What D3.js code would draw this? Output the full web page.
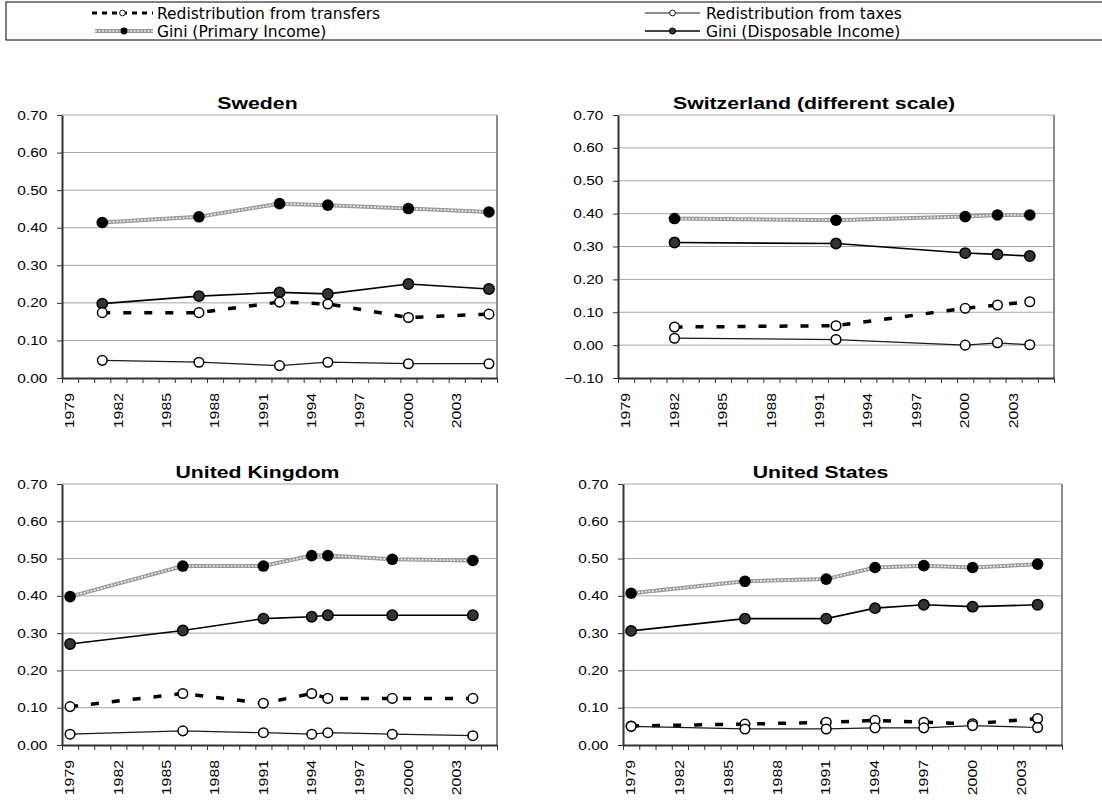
<!DOCTYPE html>
<html>
<head>
<meta charset="utf-8">
<script src="https://cdn.jsdelivr.net/npm/d3@7"></script>
<style>
  body { margin: 0; background: #fff; }
  text { fill: #000; }
</style>
</head>
<body>
<div id="viz"></div>
<script>
// categories on the x axis (one band per year)
const allYears = [1979, 1980, 1981, 1982, 1983, 1984, 1985, 1986, 1987, 1988, 1989, 1990, 1991,
  1992, 1993, 1994, 1995, 1996, 1997, 1998, 1999, 2000, 2001, 2002, 2003, 2004, 2005];
const tickYears = [1979, 1982, 1985, 1988, 1991, 1994, 1997, 2000, 2003];
const yTicks = [0, 0.1, 0.2, 0.3, 0.4, 0.5, 0.6, 0.7];
const yTicksChe = [-0.1, 0, 0.1, 0.2, 0.3, 0.4, 0.5, 0.6, 0.7];

const seriesNames = ["Redistribution from transfers", "Redistribution from taxes",
  "Gini (Primary Income)", "Gini (Disposable Income)"];

// Sweden
const sweYears = [1981, 1987, 1992, 1995, 2000, 2005];
const sweTransfers = [0.174, 0.174, 0.202, 0.197, 0.161, 0.170];
const sweTaxes = [0.047, 0.042, 0.033, 0.042, 0.038, 0.038];
const swePrimary = [0.414, 0.429, 0.464, 0.460, 0.451, 0.442];
const sweDisposable = [0.198, 0.218, 0.228, 0.224, 0.250, 0.237];

// Switzerland
const cheYears = [1982, 1992, 2000, 2002, 2004];
const cheTransfers = [0.055, 0.059, 0.112, 0.122, 0.132];
const cheTaxes = [0.021, 0.017, 0.000, 0.007, 0.001];
const chePrimary = [0.385, 0.380, 0.391, 0.396, 0.396];
const cheDisposable = [0.312, 0.309, 0.280, 0.276, 0.271];

// United Kingdom
const gbrYears = [1979, 1986, 1991, 1994, 1995, 1999, 2004];
const gbrTransfers = [0.103, 0.138, 0.112, 0.138, 0.125, 0.125, 0.125];
const gbrTaxes = [0.029, 0.038, 0.033, 0.029, 0.033, 0.029, 0.025];
const gbrPrimary = [0.398, 0.480, 0.480, 0.508, 0.508, 0.498, 0.495];
const gbrDisposable = [0.271, 0.307, 0.339, 0.344, 0.348, 0.348, 0.348];

// United States
const usaYears = [1979, 1986, 1991, 1994, 1997, 2000, 2004];
const usaTransfers = [0.051, 0.056, 0.061, 0.066, 0.061, 0.057, 0.071];
const usaTaxes = [0.050, 0.043, 0.043, 0.046, 0.046, 0.052, 0.047];
const usaPrimary = [0.407, 0.439, 0.445, 0.476, 0.481, 0.476, 0.485];
const usaDisposable = [0.306, 0.339, 0.339, 0.367, 0.376, 0.371, 0.376];

const W = 1102, H = 801;
const axisFont = "'Liberation Sans', Arial, sans-serif";

const panels = [
  {title: "Sweden", years: sweYears, series: [sweTransfers, sweTaxes, swePrimary, sweDisposable],
   ticks: yTicks, left: 62, right: 497, top: 115, bottom: 378},
  {title: "Switzerland (different scale)", years: cheYears, series: [cheTransfers, cheTaxes, chePrimary, cheDisposable],
   ticks: yTicksChe, left: 618, right: 1054, top: 115, bottom: 378},
  {title: "United Kingdom", years: gbrYears, series: [gbrTransfers, gbrTaxes, gbrPrimary, gbrDisposable],
   ticks: yTicks, left: 62, right: 497, top: 484, bottom: 745},
  {title: "United States", years: usaYears, series: [usaTransfers, usaTaxes, usaPrimary, usaDisposable],
   ticks: yTicks, left: 623, right: 1062, top: 484, bottom: 745}
];

const svg = d3.select("#viz").append("svg")
    .attr("width", W)
    .attr("height", H);

// line styles, one per series (index as in seriesNames)
function drawLine(g, pts, i, small) {
  const line = d3.line().x(d => d[0]).y(d => d[1]);
  if (i === 0) {
    g.append("path").attr("d", line(pts)).attr("fill", "none")
      .attr("stroke", "#000").attr("stroke-width", small ? 3 : 3.5)
      .attr("stroke-dasharray", small ? "5,5" : "8,13");
  } else if (i === 1) {
    g.append("path").attr("d", line(pts)).attr("fill", "none")
      .attr("stroke", "#1a1a1a").attr("stroke-width", 1.2);
  } else if (i === 2) {
    g.append("path").attr("d", line(pts)).attr("fill", "none")
      .attr("stroke", "#999").attr("stroke-width", 4);
    g.append("path").attr("d", line(pts)).attr("fill", "none")
      .attr("stroke", "#eee").attr("stroke-width", 1.6).attr("stroke-dasharray", "2,1.5");
  } else {
    g.append("path").attr("d", line(pts)).attr("fill", "none")
      .attr("stroke", "#000").attr("stroke-width", 1.6);
  }
}

function drawMarker(g, x, y, i, small) {
  const k = small ? 0.6 : 1;
  const c = g.append("circle").attr("cx", x).attr("cy", y);
  if (i < 2) {
    c.attr("r", 4.8 * k).attr("fill", "#fff").attr("stroke", "#000").attr("stroke-width", 1.5 * k);
  } else if (i === 2) {
    c.attr("r", 5.8 * k).attr("fill", "#000");
  } else {
    c.attr("r", 5.2 * k).attr("fill", "#333").attr("stroke", "#000").attr("stroke-width", 1.5 * k);
  }
}

panels.forEach(p => {
  const g = svg.append("g");

  const x = d3.scaleBand().domain(allYears).range([p.left, p.right]);
  const xEdge = d3.scaleLinear().domain([1979, 2006]).range([p.left, p.right]);
  const y = d3.scaleLinear().domain([p.ticks[0], 0.7]).range([p.bottom, p.top]);

  // gridlines
  g.selectAll(".grid")
    .data(p.ticks.slice(1))
    .enter().append("line")
    .attr("x1", p.left).attr("x2", p.right)
    .attr("y1", d => y(d)).attr("y2", d => y(d))
    .attr("stroke", "#a6a6a6").attr("stroke-width", 1);

  // right border
  g.append("line")
    .attr("x1", p.right).attr("x2", p.right)
    .attr("y1", p.top).attr("y2", p.bottom)
    .attr("stroke", "#8c8c8c").attr("stroke-width", 2);

  // y axis
  const yAxis = g.append("g")
    .attr("transform", "translate(" + p.left + ",0)")
    .call(d3.axisLeft(y).tickValues(p.ticks).tickSizeInner(5).tickSizeOuter(0)
      .tickFormat(d3.format(".2f")));
  yAxis.select(".domain").attr("stroke", "#333").attr("stroke-width", 2);
  yAxis.selectAll(".tick line").attr("stroke", "#333");
  yAxis.selectAll("text")
    .style("font-family", axisFont)
    .style("font-size", "12.5px")
    .attr("x", -12)
    .attr("transform", "scale(1.23,1)");

  // x axis: tick marks at band edges
  const xTicks = g.append("g")
    .attr("transform", "translate(0," + p.bottom + ")")
    .call(d3.axisBottom(xEdge).tickValues(allYears.concat([2006])).tickSizeInner(5)
      .tickSizeOuter(0).tickFormat(""));
  xTicks.select(".domain").attr("stroke", "#333").attr("stroke-width", 2);
  xTicks.selectAll(".tick line").attr("stroke", "#333");

  // x axis: rotated year labels
  const xLabels = g.append("g")
    .attr("transform", "translate(0," + p.bottom + ")")
    .call(d3.axisBottom(x).tickValues(tickYears).tickSize(0));
  xLabels.select(".domain").remove();
  xLabels.selectAll("text")
    .style("font-family", axisFont)
    .style("font-size", "12px")
    .attr("text-anchor", "end")
    .attr("x", -15 / 1.32)
    .attr("y", 0)
    .attr("dy", "0.35em")
    .attr("transform", "rotate(-90) scale(1.32,1)");

  // title
  g.append("text")
    .attr("transform", "translate(" + ((p.left + p.right) / 2 - 22) + "," + (p.top - 6) + ") scale(1.25,1)")
    .attr("text-anchor", "middle")
    .style("font-family", axisFont)
    .style("font-size", "17px")
    .style("font-weight", "bold")
    .text(p.title);

  const cx = yr => x(yr) + x.bandwidth() / 2;
  const order = [2, 3, 0, 1];
  order.forEach(i => {
    const pts = p.years.map((yr, k) => [cx(yr), y(p.series[i][k])]);
    drawLine(g, pts, i, false);
  });
  order.forEach(i => {
    p.years.forEach((yr, k) => drawMarker(g, cx(yr), y(p.series[i][k]), i, false));
  });
});

// legend
const legend = svg.append("g");
legend.append("rect")
  .attr("x", 6).attr("y", 2)
  .attr("width", 1105).attr("height", 38)
  .attr("fill", "none").attr("stroke", "#000").attr("stroke-width", 1);

const legendPos = [
  {x1: 92, x2: 153, tx: 157, cy: 13},
  {x1: 645, x2: 700, tx: 706, cy: 13},
  {x1: 95, x2: 153, tx: 157, cy: 31},
  {x1: 645, x2: 700, tx: 706, cy: 31}
];
seriesNames.forEach((name, i) => {
  const lp = legendPos[i];
  drawLine(legend, [[lp.x1, lp.cy], [lp.x2, lp.cy]], i, true);
  drawMarker(legend, (lp.x1 + lp.x2) / 2, lp.cy, i, true);
  legend.append("text")
    .attr("x", lp.tx).attr("y", lp.cy + 5.5)
    .style("font-family", "'DejaVu Sans', sans-serif")
    .style("font-size", "15.5px")
    .text(name);
});
</script>
</body>
</html>
